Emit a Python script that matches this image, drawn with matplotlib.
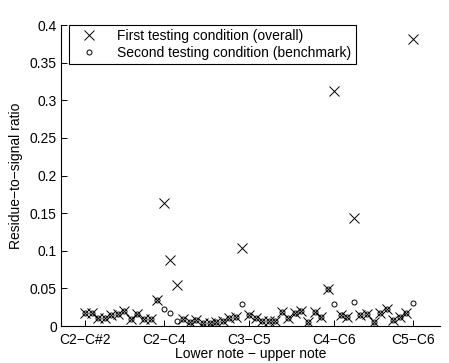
import matplotlib
matplotlib.use("Agg")
import matplotlib.pyplot as plt
import numpy as np

plt.rcParams['font.family'] = ['Liberation Sans', 'DejaVu Sans']

overall = [0.0177, 0.0169, 0.011, 0.010, 0.0146, 0.0155, 0.020, 0.009, 0.016, 0.009,
           0.009, 0.034, 0.163, 0.088, 0.054, 0.009, 0.0058, 0.008, 0.0044, 0.0044,
           0.0058, 0.007, 0.010, 0.0115, 0.104, 0.0146, 0.011, 0.007, 0.007, 0.007,
           0.019, 0.010, 0.0177, 0.020, 0.0058, 0.019, 0.0115, 0.049, 0.312, 0.0146,
           0.0115, 0.1435, 0.0146, 0.0155, 0.0058, 0.0177, 0.022, 0.008, 0.0115, 0.0169,
           0.381]
benchmark = [0.0177, 0.0169, 0.011, 0.010, 0.0146, 0.0155, 0.020, 0.009, 0.016, 0.009,
             0.009, 0.034, 0.022, 0.017, 0.0066, 0.009, 0.0058, 0.008, 0.0044, 0.0044,
             0.0058, 0.007, 0.010, 0.0115, 0.029, 0.0146, 0.011, 0.007, 0.007, 0.007,
             0.019, 0.010, 0.0177, 0.020, 0.0058, 0.019, 0.0115, 0.049, 0.029, 0.0146,
             0.0115, 0.032, 0.0146, 0.0155, 0.0058, 0.0177, 0.022, 0.008, 0.0115, 0.0169,
             0.030]
tick_positions = [0, 12, 25, 38, 50]
tick_labels = ["C2\u2212C#2", "C2\u2212C4", "C3\u2212C5", "C4\u2212C6", "C5\u2212C6"]

x = np.arange(len(overall))

fig = plt.figure(figsize=(4.49, 3.63), dpi=100)
ax = fig.add_axes([0.1359, 0.1019, 0.845, 0.8292])

ax.plot(x, overall, linestyle='none', marker='x', markersize=7, markeredgewidth=0.7,
        color='black', label='First testing condition (overall)')
ax.plot(x, benchmark, linestyle='none', marker='o', markersize=3.6, markeredgewidth=0.7,
        markerfacecolor='none', color='black', label='Second testing condition (benchmark)')

FS = 10
ax.set_xlim(-3.66, 54.2)
ax.set_ylim(0, 0.4)
ax.set_yticks(np.arange(0, 0.401, 0.05))
ax.set_yticklabels(['0', '0.05', '0.1', '0.15', '0.2', '0.25', '0.3', '0.35', '0.4'])
ax.set_xticks(tick_positions)
ax.set_xticklabels(tick_labels)
ax.tick_params(axis='y', direction='in', length=4, width=0.7, labelsize=FS, pad=3)
ax.tick_params(axis='x', direction='in', length=4, width=0.7, labelsize=FS, pad=5)
for s in ['top', 'right']:
    ax.spines[s].set_visible(False)
for s in ['left', 'bottom']:
    ax.spines[s].set_linewidth(0.8)

ax.set_xlabel('Lower note \u2212 upper note', fontsize=FS, labelpad=0)
ax.set_ylabel('Residue\u2212to\u2212signal ratio', fontsize=FS, labelpad=5)

leg = ax.legend(loc='upper left', bbox_to_anchor=(0.02, 1.0), fontsize=FS,
                frameon=True, fancybox=False, edgecolor='black', framealpha=1,
                borderpad=0.3, handletextpad=0.8, handlelength=2.4, labelspacing=0.22,
                borderaxespad=0)
leg.get_frame().set_linewidth(0.8)

fig.savefig('out.png', dpi=100)
